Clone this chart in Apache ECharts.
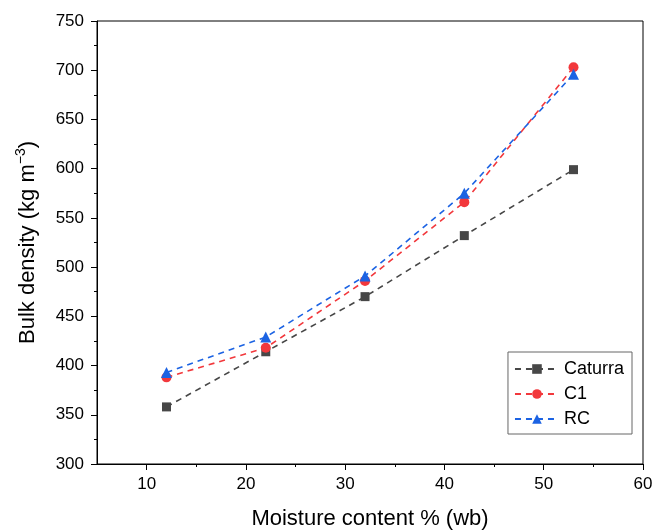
<!DOCTYPE html>
<html>
<head>
<meta charset="utf-8">
<script src="https://cdn.jsdelivr.net/npm/echarts@6/dist/echarts.min.js"></script>
<style>html,body{margin:0;padding:0;background:#fff;}#c{width:658px;height:530px;}</style>
</head>
<body>
<div id="c"></div>
<script>
const moisture = [12, 22, 32, 42, 53];
const caturra = [358, 414, 470, 532, 599];
const c1 = [388, 418, 486, 566, 703];
const rc = [393, 429, 491, 575, 696];
const xTickLabels = [10, 20, 30, 40, 50, 60];
const xMinorTicks = [15, 25, 35, 45, 55];

const font = 'Liberation Sans, Arial, sans-serif';
const pair = (xs, ys) => xs.map((x, i) => [x, ys[i]]);

const chart = echarts.init(document.getElementById('c'), null, {renderer: 'canvas'});
const mk = (name, data, color, symbol, size) => ({
  name, type: 'line', data: pair(moisture, data), symbol, symbolSize: size,
  lineStyle: {color, width: 1.6, type: [6, 5]},
  itemStyle: {color}, xAxisIndex: 0, yAxisIndex: 0, z: 3
});
chart.setOption({
  animation: false,
  backgroundColor: '#fff',
  grid: {left: 97, right: 15, top: 21, bottom: 66, containLabel: false, outerBoundsMode: 'none',
         show: true, borderColor: '#000', borderWidth: 1},
  legend: {
    right: 26, top: 352, orient: 'vertical', itemGap: 7, itemWidth: 44, itemHeight: 12,
    padding: [8, 8, 6, 6], borderColor: '#666', borderWidth: 1,
    textStyle: {fontFamily: font, fontSize: 18, color: '#000'},
    data: ['Caturra', 'C1', 'RC']
  },
  xAxis: [{
    type: 'value', min: 5, max: 60,
    axisLine: {show: true, lineStyle: {color: '#000', width: 1}},
    axisTick: {show: true, inside: false, length: 6, customValues: xTickLabels, lineStyle: {color: '#000'}},
    axisLabel: {customValues: xTickLabels, fontFamily: font, fontSize: 17, color: '#000', margin: 12},
    splitLine: {show: false},
    name: 'Moisture content % (wb)', nameLocation: 'middle', nameGap: 44,
    nameTextStyle: {fontFamily: font, fontSize: 22, color: '#000'}
  }, {
    type: 'value', min: 5, max: 60, position: 'bottom',
    axisLine: {show: false},
    axisTick: {show: true, length: 3, customValues: xMinorTicks, lineStyle: {color: '#000'}},
    axisLabel: {show: false},
    splitLine: {show: false}
  }],
  yAxis: {
    type: 'value', min: 300, max: 750, interval: 50,
    axisLine: {show: true, lineStyle: {color: '#000', width: 1}},
    axisTick: {show: true, length: 6, lineStyle: {color: '#000'}},
    minorTick: {show: true, splitNumber: 2, length: 3, lineStyle: {color: '#000'}},
    axisLabel: {fontFamily: font, fontSize: 17, color: '#000', margin: 13},
    splitLine: {show: false},
    name: '{a|Bulk density (kg m}{s|−3}{a|)}', nameLocation: 'middle', nameGap: 55, nameRotate: 90,
    nameTextStyle: {
      fontFamily: font, fontSize: 22, color: '#000',
      rich: {
        a: {fontFamily: font, fontSize: 22, color: '#000', lineHeight: 28},
        s: {fontFamily: font, fontSize: 14, color: '#000', verticalAlign: 'top', lineHeight: 28, padding: [0, 0, 9, 0]}
      }
    }
  },
  series: [
    mk('Caturra', caturra, '#474747', 'rect', 9),
    mk('C1', c1, '#f2383c', 'circle', 10),
    mk('RC', rc, '#1c63e3', 'triangle', 11)
  ]
});
</script>
</body>
</html>
